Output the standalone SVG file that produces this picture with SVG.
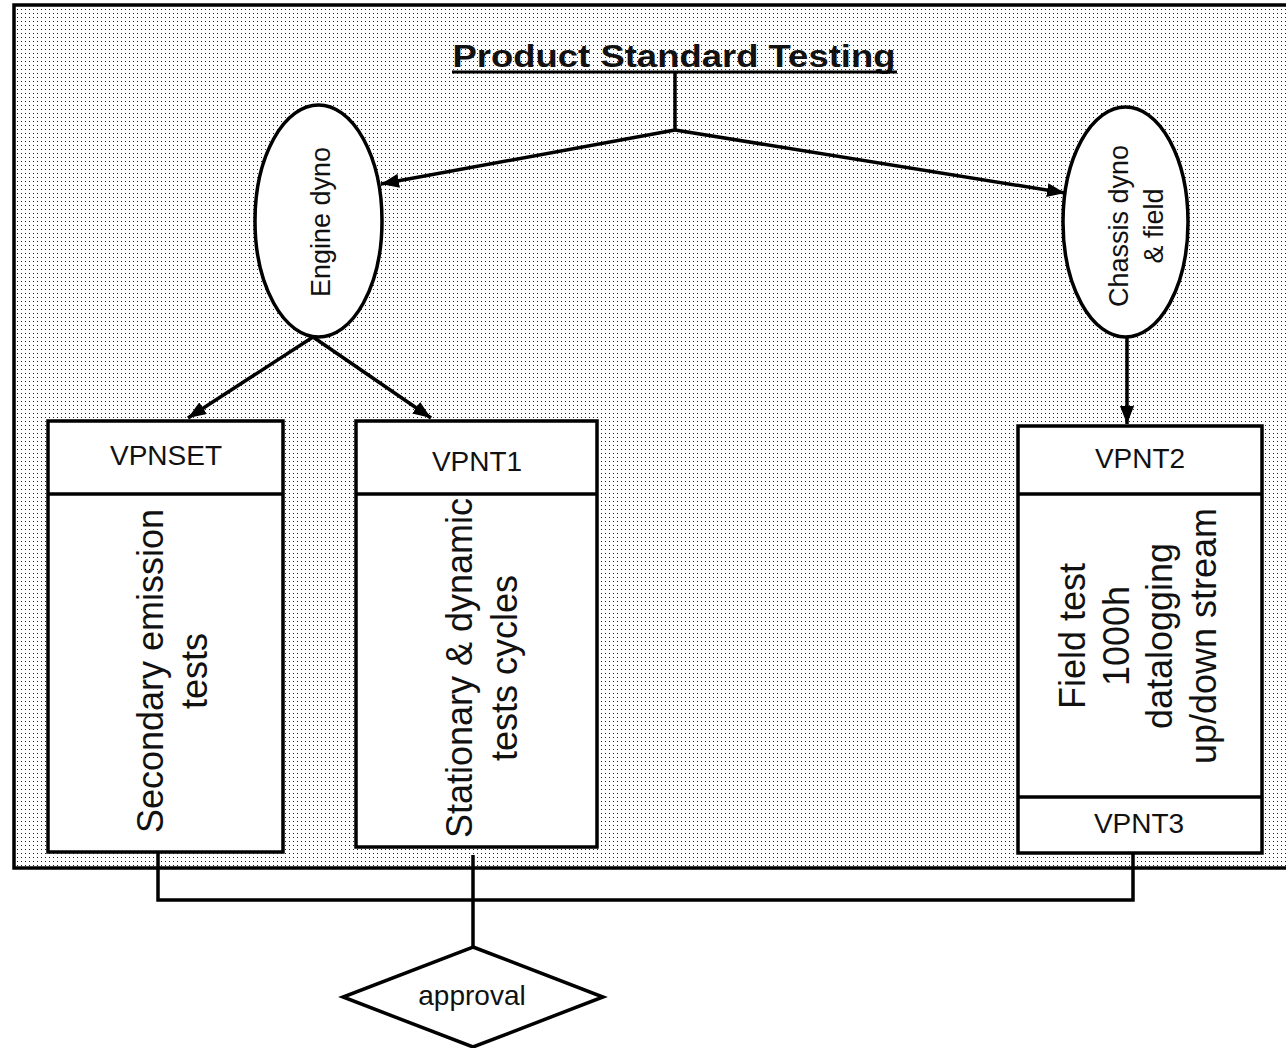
<svg xmlns="http://www.w3.org/2000/svg" width="1286" height="1048" viewBox="0 0 1286 1048">
<style>
.ln{fill:none;stroke:#000;stroke-width:3.5}
.shape{fill:#fff;stroke:#000;stroke-width:3.5}
.t{font-family:"Liberation Sans",Arial,sans-serif;fill:#111;text-anchor:middle}
.hd{font-size:28px}
.bd{font-size:36px}
.el{font-size:27px}
</style>
<defs>
<pattern id="dots" width="4" height="4" patternUnits="userSpaceOnUse">
<rect width="4" height="4" fill="#fff"/>
<rect x="1" y="1" width="1" height="1" fill="#222"/>
</pattern>
<marker id="ah" viewBox="0 0 18 14" refX="18" refY="7" markerWidth="18" markerHeight="14" markerUnits="userSpaceOnUse" orient="auto">
<path d="M0,0 L18,7 L0,14 z" fill="#000"/>
</marker>
</defs>
<rect width="1286" height="1048" fill="#fff"/>
<g id="frame">
<rect x="14" y="5" width="1290" height="863" fill="url(#dots)" stroke="#000" stroke-width="3.5"/>
</g>
<g id="title">
<text class="t" x="674" y="67" font-size="31" font-weight="bold" textLength="443" lengthAdjust="spacingAndGlyphs">Product Standard Testing</text>
<line x1="452" y1="72" x2="897" y2="72" stroke="#000" stroke-width="3"/>
</g>
<g id="connectors">
<path class="ln" d="M675,72 V130"/>
<path class="ln" d="M675,130 L381,184" marker-end="url(#ah)"/>
<path class="ln" d="M675,130 L1065,193" marker-end="url(#ah)"/>
<path class="ln" d="M313,337 L188,418" marker-end="url(#ah)"/>
<path class="ln" d="M313,337 L431,418" marker-end="url(#ah)"/>
<path class="ln" d="M1127,337 V424" marker-end="url(#ah)"/>
<path class="ln" d="M158,852 V900 H1133 V853"/>
<path class="ln" d="M473,855 V947"/>
</g>
<g id="engine-dyno">
<ellipse class="shape" cx="318.5" cy="221" rx="63.5" ry="116"/>
<text class="t el" transform="translate(330,222) rotate(-90)">Engine dyno</text>
</g>
<g id="chassis-dyno">
<ellipse class="shape" cx="1125.5" cy="222" rx="62.5" ry="115"/>
<text class="t el" transform="translate(1128,226) rotate(-90)">Chassis dyno</text>
<text class="t el" transform="translate(1163,226) rotate(-90)">&amp; field</text>
</g>
<g id="vpnset">
<rect class="shape" x="48" y="421" width="235" height="431"/>
<line class="ln" x1="48" y1="494" x2="283" y2="494"/>
<text class="t hd" x="166" y="465">VPNSET</text>
<text class="t bd" transform="translate(163,671) rotate(-90)">Secondary emission</text>
<text class="t bd" transform="translate(207,671) rotate(-90)">tests</text>
</g>
<g id="vpnt1">
<rect class="shape" x="356" y="421" width="241" height="426"/>
<line class="ln" x1="356" y1="494" x2="597" y2="494"/>
<text class="t hd" x="477" y="471">VPNT1</text>
<text class="t bd" transform="translate(472,668) rotate(-90)">Stationary &amp; dynamic</text>
<text class="t bd" transform="translate(517,668) rotate(-90)">tests cycles</text>
</g>
<g id="vpnt2">
<rect class="shape" x="1018" y="426" width="244" height="427"/>
<line class="ln" x1="1018" y1="494" x2="1262" y2="494"/>
<line class="ln" x1="1018" y1="797" x2="1262" y2="797"/>
<text class="t hd" x="1140" y="468">VPNT2</text>
<text class="t bd" transform="translate(1085,636) rotate(-90)">Field test</text>
<text class="t bd" transform="translate(1128.5,636) rotate(-90)">1000h</text>
<text class="t bd" transform="translate(1172,636) rotate(-90)">datalogging</text>
<text class="t bd" transform="translate(1215.5,636) rotate(-90)">up/down stream</text>
</g>
<g id="vpnt3">
<text class="t hd" x="1139" y="833">VPNT3</text>
</g>
<g id="approval">
<path class="shape" d="M473,947 L603,997 L473,1047 L343,997 z"/>
<text class="t hd" x="472" y="1005">approval</text>
</g>
</svg>
